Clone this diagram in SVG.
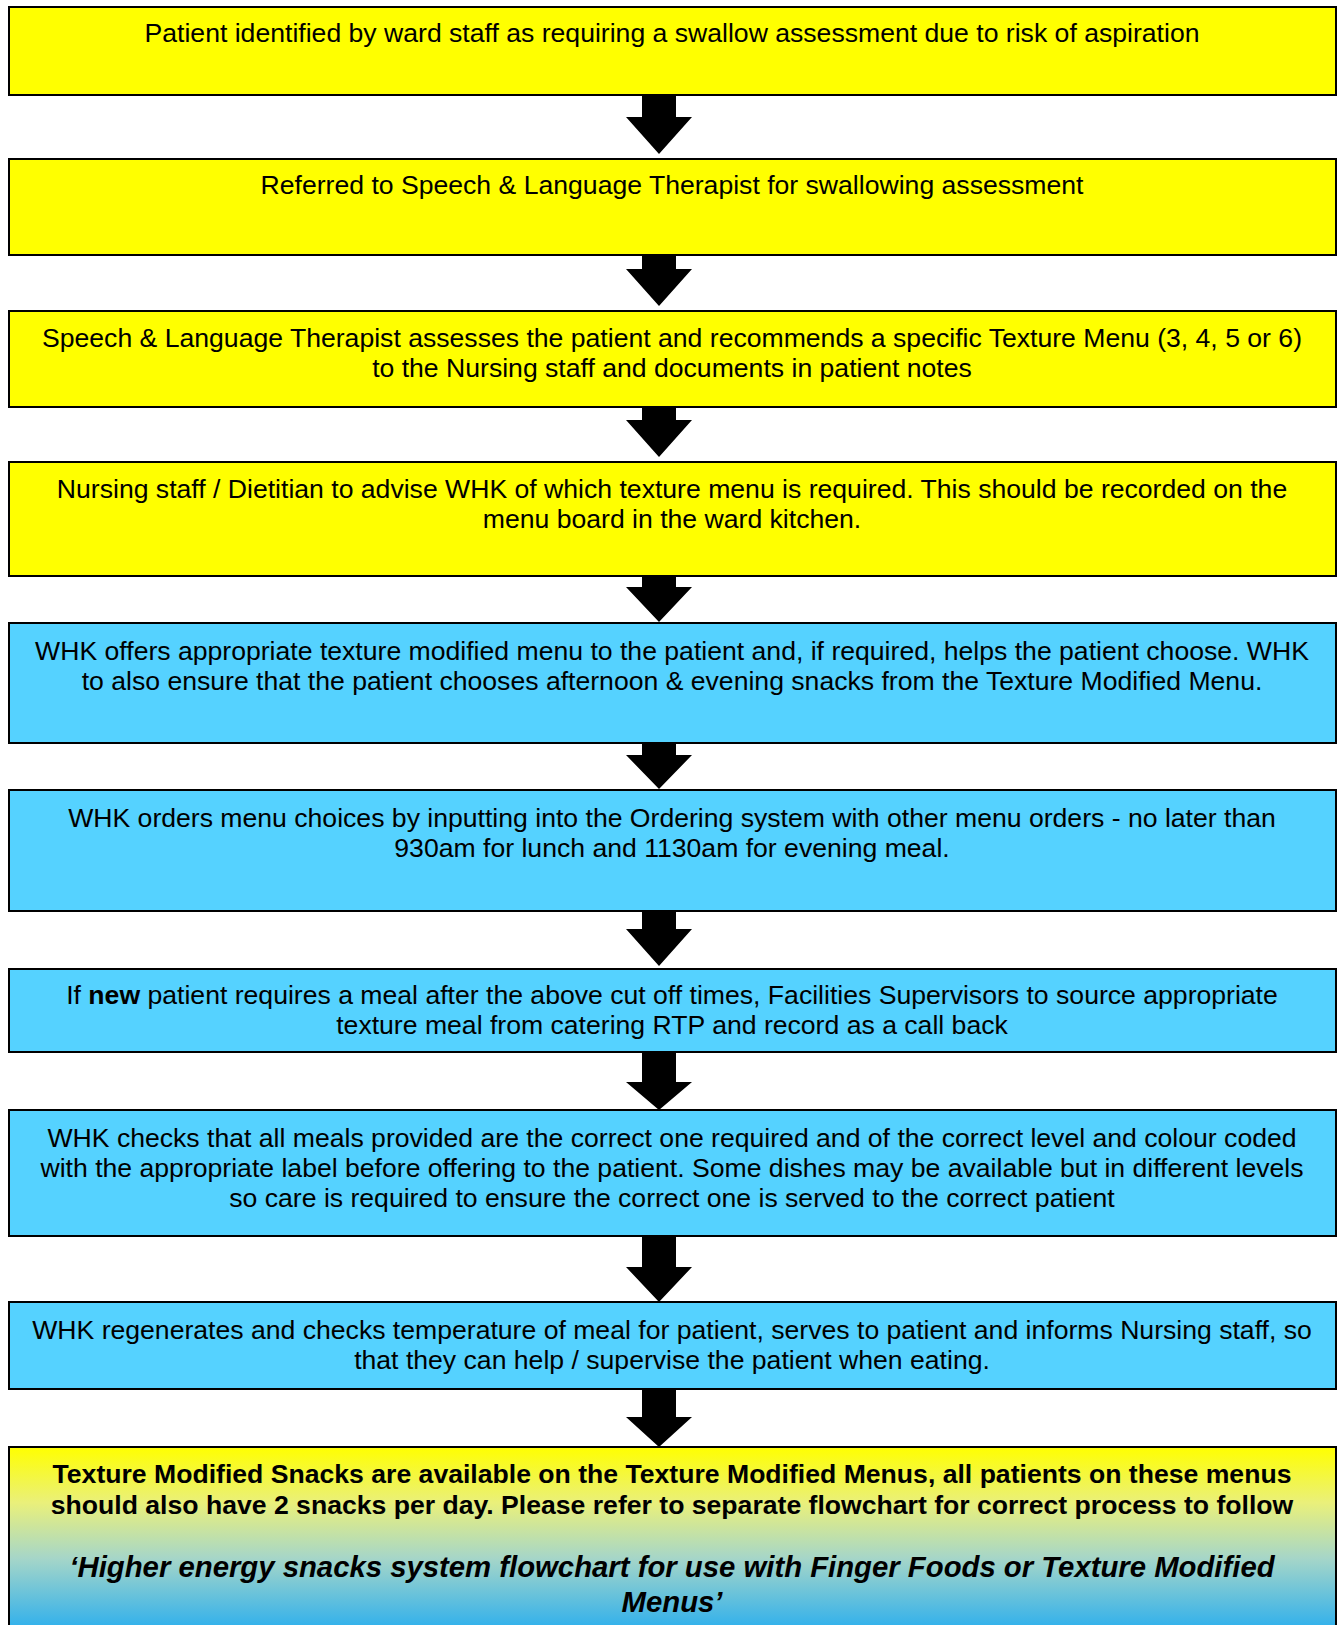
<svg xmlns="http://www.w3.org/2000/svg" width="1338" height="1625" viewBox="0 0 1338 1625">
<style>
.box{stroke:#000;stroke-width:2}
.y{fill:#FFFF00}
.b{fill:#55D2FF}
.t{font-family:"Liberation Sans",Arial,sans-serif;font-size:26.6px;fill:#000;text-anchor:middle}
.bt{font-family:"Liberation Sans",Arial,sans-serif;font-size:26.6px;font-weight:bold;fill:#000;text-anchor:middle}
.it{font-family:"Liberation Sans",Arial,sans-serif;font-size:29.3px;font-weight:bold;font-style:italic;fill:#000;text-anchor:middle}
.arr{fill:#000}
</style>
<defs>
<linearGradient id="g" x1="0" y1="0" x2="0" y2="1">
<stop offset="0" stop-color="#FFFF00"/>
<stop offset="0.3" stop-color="#EAF07A"/>
<stop offset="0.6" stop-color="#A6D6C8"/>
<stop offset="1" stop-color="#2AAEEE"/>
</linearGradient>
</defs>
<g id="connectors">
<polygon class="arr" points="642,95 676,95 676,117 692,117 659,154 626,117 642,117"/>
<polygon class="arr" points="642,255 676,255 676,269 692,269 659,306 626,269 642,269"/>
<polygon class="arr" points="642,407 676,407 676,420 692,420 659,457 626,420 642,420"/>
<polygon class="arr" points="642,576 676,576 676,587 692,587 659,622 626,587 642,587"/>
<polygon class="arr" points="642,743 676,743 676,755 692,755 659,789 626,755 642,755"/>
<polygon class="arr" points="642,911 676,911 676,929 692,929 659,966 626,929 642,929"/>
<polygon class="arr" points="642,1052 676,1052 676,1082 692,1082 659,1110 626,1082 642,1082"/>
<polygon class="arr" points="642,1236 676,1236 676,1267 692,1267 659,1302 626,1267 642,1267"/>
<polygon class="arr" points="642,1389 676,1389 676,1417 692,1417 659,1447 626,1417 642,1417"/>
</g>
<g id="n1">
<rect class="box y" x="9" y="7" width="1327" height="88"/>
<text class="t" x="672" y="42">Patient identified by ward staff as requiring a swallow assessment due to risk of aspiration</text>
</g>
<g id="n2">
<rect class="box y" x="9" y="159" width="1327" height="96"/>
<text class="t" x="672" y="194">Referred to Speech &amp; Language Therapist for swallowing assessment</text>
</g>
<g id="n3">
<rect class="box y" x="9" y="311" width="1327" height="96"/>
<text class="t" x="672" y="347">Speech &amp; Language Therapist assesses the patient and recommends a specific Texture Menu (3, 4, 5 or 6)</text>
<text class="t" x="672" y="377">to the Nursing staff and documents in patient notes</text>
</g>
<g id="n4">
<rect class="box y" x="9" y="462" width="1327" height="114"/>
<text class="t" x="672" y="498">Nursing staff / Dietitian to advise WHK of which texture menu is required. This should be recorded on the</text>
<text class="t" x="672" y="528">menu board in the ward kitchen.</text>
</g>
<g id="n5">
<rect class="box b" x="9" y="623" width="1327" height="120"/>
<text class="t" x="672" y="660">WHK offers appropriate texture modified menu to the patient and, if required, helps the patient choose. WHK</text>
<text class="t" x="672" y="690">to also ensure that the patient chooses afternoon &amp; evening snacks from the Texture Modified Menu.</text>
</g>
<g id="n6">
<rect class="box b" x="9" y="790" width="1327" height="121"/>
<text class="t" x="672" y="827">WHK orders menu choices by inputting into the Ordering system with other menu orders - no later than</text>
<text class="t" x="672" y="857">930am for lunch and 1130am for evening meal.</text>
</g>
<g id="n7">
<rect class="box b" x="9" y="969" width="1327" height="83"/>
<text class="t" x="672" y="1004">If <tspan font-weight="bold">new</tspan> patient requires a meal after the above cut off times, Facilities Supervisors to source appropriate</text>
<text class="t" x="672" y="1034">texture meal from catering RTP and record as a call back</text>
</g>
<g id="n8">
<rect class="box b" x="9" y="1110" width="1327" height="126"/>
<text class="t" x="672" y="1147">WHK checks that all meals provided are the correct one required and of the correct level and colour coded</text>
<text class="t" x="672" y="1177">with the appropriate label before offering to the patient. Some dishes may be available but in different levels</text>
<text class="t" x="672" y="1207">so care is required to ensure the correct one is served to the correct patient</text>
</g>
<g id="n9">
<rect class="box b" x="9" y="1302" width="1327" height="87"/>
<text class="t" x="672" y="1339">WHK regenerates and checks temperature of meal for patient, serves to patient and informs Nursing staff, so</text>
<text class="t" x="672" y="1369">that they can help / supervise the patient when eating.</text>
</g>
<g id="n10">
<rect class="box" fill="url(#g)" x="9" y="1447" width="1327" height="185"/>
<text class="bt" x="672" y="1483">Texture Modified Snacks are available on the Texture Modified Menus, all patients on these menus</text>
<text class="bt" x="672" y="1514">should also have 2 snacks per day. Please refer to separate flowchart for correct process to follow</text>
<text class="it" x="672" y="1577">‘Higher energy snacks system flowchart for use with Finger Foods or Texture Modified</text>
<text class="it" x="672" y="1612">Menus’</text>
</g>
</svg>
